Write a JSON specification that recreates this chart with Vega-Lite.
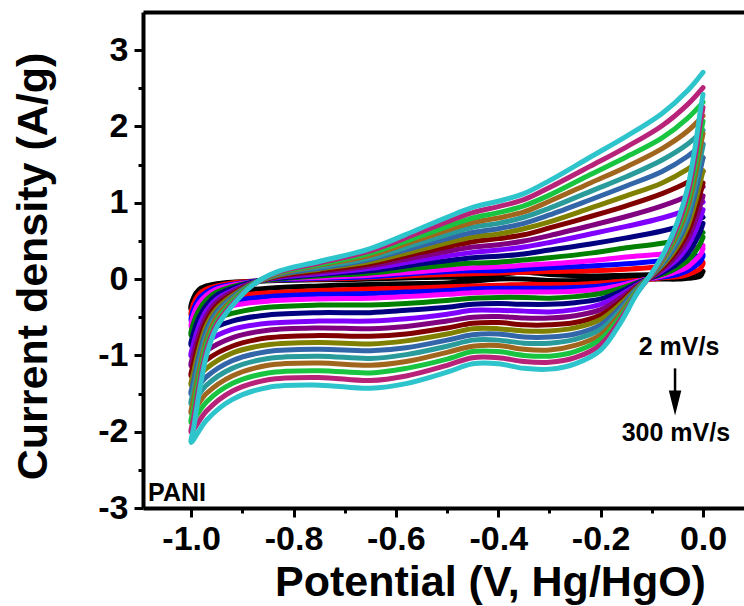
{
"$schema": "https://vega.github.io/schema/vega-lite/v6.json",
"width": 601, "height": 496,
"autosize": {"type": "none"},
"padding": {"left": 143, "top": 12, "right": 0, "bottom": 98},
"background": "white",
"config": {"view": {"stroke": null}, "font": "Liberation Sans"},
"datasets": {
"cv": [
{"k":0,"o":0,"v":0,"i":0.10},{"k":0,"o":1,"v":-0.005,"i":0.04},{"k":0,"o":2,"v":-0.015,"i":0.02},{"k":0,"o":3,"v":-0.03,"i":0.01},{"k":0,"o":4,"v":-0.05,"i":0.00},{"k":0,"o":5,"v":-0.075,"i":0.00},{"k":0,"o":6,"v":-0.1,"i":0.00},{"k":0,"o":7,"v":-0.13,"i":-0.01},{"k":0,"o":8,"v":-0.16,"i":-0.01},{"k":0,"o":9,"v":-0.2,"i":-0.01},{"k":0,"o":10,"v":-0.25,"i":-0.02},{"k":0,"o":11,"v":-0.3,"i":-0.02},{"k":0,"o":12,"v":-0.35,"i":0.00},{"k":0,"o":13,"v":-0.4,"i":0.00},{"k":0,"o":14,"v":-0.45,"i":-0.03},{"k":0,"o":15,"v":-0.5,"i":-0.05},{"k":0,"o":16,"v":-0.58,"i":-0.06},{"k":0,"o":17,"v":-0.65,"i":-0.07},{"k":0,"o":18,"v":-0.75,"i":-0.09},{"k":0,"o":19,"v":-0.85,"i":-0.12},{"k":0,"o":20,"v":-0.92,"i":-0.17},{"k":0,"o":21,"v":-0.97,"i":-0.26},{"k":0,"o":22,"v":-1.0,"i":-0.40},
{"k":0,"o":23,"v":-0.995,"i":-0.24},{"k":0,"o":24,"v":-0.985,"i":-0.14},{"k":0,"o":25,"v":-0.97,"i":-0.09},{"k":0,"o":26,"v":-0.95,"i":-0.06},{"k":0,"o":27,"v":-0.92,"i":-0.04},{"k":0,"o":28,"v":-0.88,"i":-0.03},{"k":0,"o":29,"v":-0.83,"i":-0.02},{"k":0,"o":30,"v":-0.75,"i":-0.01},{"k":0,"o":31,"v":-0.65,"i":0.00},{"k":0,"o":32,"v":-0.55,"i":0.02},{"k":0,"o":33,"v":-0.45,"i":0.03},{"k":0,"o":34,"v":-0.4,"i":0.06},{"k":0,"o":35,"v":-0.35,"i":0.09},{"k":0,"o":36,"v":-0.3,"i":0.06},{"k":0,"o":37,"v":-0.22,"i":0.04},{"k":0,"o":38,"v":-0.15,"i":0.05},{"k":0,"o":39,"v":-0.08,"i":0.06},{"k":0,"o":40,"v":-0.03,"i":0.07},{"k":0,"o":41,"v":0,"i":0.10},

{"k":1,"o":0,"v":0,"i":0.20},{"k":1,"o":1,"v":-0.005,"i":0.14},{"k":1,"o":2,"v":-0.015,"i":0.10},{"k":1,"o":3,"v":-0.03,"i":0.06},{"k":1,"o":4,"v":-0.05,"i":0.03},{"k":1,"o":5,"v":-0.075,"i":0.02},{"k":1,"o":6,"v":-0.1,"i":0.00},{"k":1,"o":7,"v":-0.13,"i":-0.02},{"k":1,"o":8,"v":-0.16,"i":-0.03},{"k":1,"o":9,"v":-0.2,"i":-0.05},{"k":1,"o":10,"v":-0.25,"i":-0.07},{"k":1,"o":11,"v":-0.3,"i":-0.07},{"k":1,"o":12,"v":-0.35,"i":-0.07},{"k":1,"o":13,"v":-0.4,"i":-0.08},{"k":1,"o":14,"v":-0.45,"i":-0.09},{"k":1,"o":15,"v":-0.5,"i":-0.10},{"k":1,"o":16,"v":-0.58,"i":-0.12},{"k":1,"o":17,"v":-0.65,"i":-0.13},{"k":1,"o":18,"v":-0.75,"i":-0.15},{"k":1,"o":19,"v":-0.85,"i":-0.18},{"k":1,"o":20,"v":-0.92,"i":-0.23},{"k":1,"o":21,"v":-0.97,"i":-0.33},{"k":1,"o":22,"v":-1.0,"i":-0.48},
{"k":1,"o":23,"v":-0.995,"i":-0.32},{"k":1,"o":24,"v":-0.985,"i":-0.20},{"k":1,"o":25,"v":-0.97,"i":-0.13},{"k":1,"o":26,"v":-0.95,"i":-0.09},{"k":1,"o":27,"v":-0.92,"i":-0.05},{"k":1,"o":28,"v":-0.88,"i":-0.03},{"k":1,"o":29,"v":-0.83,"i":-0.01},{"k":1,"o":30,"v":-0.75,"i":0.00},{"k":1,"o":31,"v":-0.65,"i":0.02},{"k":1,"o":32,"v":-0.55,"i":0.05},{"k":1,"o":33,"v":-0.45,"i":0.07},{"k":1,"o":34,"v":-0.4,"i":0.08},{"k":1,"o":35,"v":-0.35,"i":0.09},{"k":1,"o":36,"v":-0.3,"i":0.10},{"k":1,"o":37,"v":-0.22,"i":0.11},{"k":1,"o":38,"v":-0.15,"i":0.13},{"k":1,"o":39,"v":-0.08,"i":0.16},{"k":1,"o":40,"v":-0.03,"i":0.18},{"k":1,"o":41,"v":0,"i":0.22},

{"k":2,"o":0,"v":0,"i":0.30},{"k":2,"o":1,"v":-0.005,"i":0.23},{"k":2,"o":2,"v":-0.015,"i":0.17},{"k":2,"o":3,"v":-0.03,"i":0.11},{"k":2,"o":4,"v":-0.05,"i":0.06},{"k":2,"o":5,"v":-0.075,"i":0.03},{"k":2,"o":6,"v":-0.1,"i":0.01},{"k":2,"o":7,"v":-0.13,"i":-0.03},{"k":2,"o":8,"v":-0.16,"i":-0.06},{"k":2,"o":9,"v":-0.2,"i":-0.09},{"k":2,"o":10,"v":-0.25,"i":-0.11},{"k":2,"o":11,"v":-0.3,"i":-0.12},{"k":2,"o":12,"v":-0.35,"i":-0.12},{"k":2,"o":13,"v":-0.4,"i":-0.12},{"k":2,"o":14,"v":-0.45,"i":-0.13},{"k":2,"o":15,"v":-0.5,"i":-0.15},{"k":2,"o":16,"v":-0.58,"i":-0.17},{"k":2,"o":17,"v":-0.65,"i":-0.19},{"k":2,"o":18,"v":-0.75,"i":-0.20},{"k":2,"o":19,"v":-0.85,"i":-0.23},{"k":2,"o":20,"v":-0.92,"i":-0.29},{"k":2,"o":21,"v":-0.97,"i":-0.40},{"k":2,"o":22,"v":-1.0,"i":-0.55},
{"k":2,"o":23,"v":-0.995,"i":-0.39},{"k":2,"o":24,"v":-0.985,"i":-0.26},{"k":2,"o":25,"v":-0.97,"i":-0.17},{"k":2,"o":26,"v":-0.95,"i":-0.11},{"k":2,"o":27,"v":-0.92,"i":-0.07},{"k":2,"o":28,"v":-0.88,"i":-0.03},{"k":2,"o":29,"v":-0.83,"i":-0.01},{"k":2,"o":30,"v":-0.75,"i":0.01},{"k":2,"o":31,"v":-0.65,"i":0.03},{"k":2,"o":32,"v":-0.55,"i":0.08},{"k":2,"o":33,"v":-0.45,"i":0.11},{"k":2,"o":34,"v":-0.4,"i":0.11},{"k":2,"o":35,"v":-0.35,"i":0.13},{"k":2,"o":36,"v":-0.3,"i":0.15},{"k":2,"o":37,"v":-0.22,"i":0.17},{"k":2,"o":38,"v":-0.15,"i":0.20},{"k":2,"o":39,"v":-0.08,"i":0.24},{"k":2,"o":40,"v":-0.03,"i":0.27},{"k":2,"o":41,"v":0,"i":0.32},

{"k":3,"o":0,"v":0,"i":0.40},{"k":3,"o":1,"v":-0.005,"i":0.32},{"k":3,"o":2,"v":-0.015,"i":0.25},{"k":3,"o":3,"v":-0.03,"i":0.16},{"k":3,"o":4,"v":-0.05,"i":0.10},{"k":3,"o":5,"v":-0.075,"i":0.05},{"k":3,"o":6,"v":-0.1,"i":0.01},{"k":3,"o":7,"v":-0.13,"i":-0.03},{"k":3,"o":8,"v":-0.16,"i":-0.08},{"k":3,"o":9,"v":-0.2,"i":-0.13},{"k":3,"o":10,"v":-0.25,"i":-0.16},{"k":3,"o":11,"v":-0.3,"i":-0.17},{"k":3,"o":12,"v":-0.35,"i":-0.17},{"k":3,"o":13,"v":-0.4,"i":-0.17},{"k":3,"o":14,"v":-0.45,"i":-0.18},{"k":3,"o":15,"v":-0.5,"i":-0.20},{"k":3,"o":16,"v":-0.58,"i":-0.23},{"k":3,"o":17,"v":-0.65,"i":-0.25},{"k":3,"o":18,"v":-0.75,"i":-0.26},{"k":3,"o":19,"v":-0.85,"i":-0.29},{"k":3,"o":20,"v":-0.92,"i":-0.35},{"k":3,"o":21,"v":-0.97,"i":-0.47},{"k":3,"o":22,"v":-1.0,"i":-0.63},
{"k":3,"o":23,"v":-0.995,"i":-0.46},{"k":3,"o":24,"v":-0.985,"i":-0.32},{"k":3,"o":25,"v":-0.97,"i":-0.21},{"k":3,"o":26,"v":-0.95,"i":-0.13},{"k":3,"o":27,"v":-0.92,"i":-0.08},{"k":3,"o":28,"v":-0.88,"i":-0.04},{"k":3,"o":29,"v":-0.83,"i":0.00},{"k":3,"o":30,"v":-0.75,"i":0.02},{"k":3,"o":31,"v":-0.65,"i":0.05},{"k":3,"o":32,"v":-0.55,"i":0.10},{"k":3,"o":33,"v":-0.45,"i":0.15},{"k":3,"o":34,"v":-0.4,"i":0.16},{"k":3,"o":35,"v":-0.35,"i":0.18},{"k":3,"o":36,"v":-0.3,"i":0.20},{"k":3,"o":37,"v":-0.22,"i":0.24},{"k":3,"o":38,"v":-0.15,"i":0.29},{"k":3,"o":39,"v":-0.08,"i":0.33},{"k":3,"o":40,"v":-0.03,"i":0.38},{"k":3,"o":41,"v":0,"i":0.44},

{"k":4,"o":0,"v":0,"i":0.55},{"k":4,"o":1,"v":-0.005,"i":0.47},{"k":4,"o":2,"v":-0.015,"i":0.36},{"k":4,"o":3,"v":-0.03,"i":0.24},{"k":4,"o":4,"v":-0.05,"i":0.15},{"k":4,"o":5,"v":-0.075,"i":0.07},{"k":4,"o":6,"v":-0.1,"i":0.02},{"k":4,"o":7,"v":-0.13,"i":-0.05},{"k":4,"o":8,"v":-0.16,"i":-0.12},{"k":4,"o":9,"v":-0.2,"i":-0.19},{"k":4,"o":10,"v":-0.25,"i":-0.23},{"k":4,"o":11,"v":-0.3,"i":-0.25},{"k":4,"o":12,"v":-0.35,"i":-0.24},{"k":4,"o":13,"v":-0.4,"i":-0.24},{"k":4,"o":14,"v":-0.45,"i":-0.25},{"k":4,"o":15,"v":-0.5,"i":-0.28},{"k":4,"o":16,"v":-0.58,"i":-0.32},{"k":4,"o":17,"v":-0.65,"i":-0.34},{"k":4,"o":18,"v":-0.75,"i":-0.34},{"k":4,"o":19,"v":-0.85,"i":-0.37},{"k":4,"o":20,"v":-0.92,"i":-0.45},{"k":4,"o":21,"v":-0.97,"i":-0.57},{"k":4,"o":22,"v":-1.0,"i":-0.74},
{"k":4,"o":23,"v":-0.995,"i":-0.57},{"k":4,"o":24,"v":-0.985,"i":-0.41},{"k":4,"o":25,"v":-0.97,"i":-0.27},{"k":4,"o":26,"v":-0.95,"i":-0.17},{"k":4,"o":27,"v":-0.92,"i":-0.10},{"k":4,"o":28,"v":-0.88,"i":-0.04},{"k":4,"o":29,"v":-0.83,"i":0.00},{"k":4,"o":30,"v":-0.75,"i":0.04},{"k":4,"o":31,"v":-0.65,"i":0.08},{"k":4,"o":32,"v":-0.55,"i":0.15},{"k":4,"o":33,"v":-0.45,"i":0.21},{"k":4,"o":34,"v":-0.4,"i":0.22},{"k":4,"o":35,"v":-0.35,"i":0.25},{"k":4,"o":36,"v":-0.3,"i":0.28},{"k":4,"o":37,"v":-0.22,"i":0.34},{"k":4,"o":38,"v":-0.15,"i":0.41},{"k":4,"o":39,"v":-0.08,"i":0.47},{"k":4,"o":40,"v":-0.03,"i":0.54},{"k":4,"o":41,"v":0,"i":0.61},

{"k":5,"o":0,"v":0,"i":0.73},{"k":5,"o":1,"v":-0.005,"i":0.63},{"k":5,"o":2,"v":-0.015,"i":0.49},{"k":5,"o":3,"v":-0.03,"i":0.33},{"k":5,"o":4,"v":-0.05,"i":0.20},{"k":5,"o":5,"v":-0.075,"i":0.10},{"k":5,"o":6,"v":-0.1,"i":0.02},{"k":5,"o":7,"v":-0.13,"i":-0.06},{"k":5,"o":8,"v":-0.16,"i":-0.16},{"k":5,"o":9,"v":-0.2,"i":-0.26},{"k":5,"o":10,"v":-0.25,"i":-0.31},{"k":5,"o":11,"v":-0.3,"i":-0.33},{"k":5,"o":12,"v":-0.35,"i":-0.33},{"k":5,"o":13,"v":-0.4,"i":-0.32},{"k":5,"o":14,"v":-0.45,"i":-0.33},{"k":5,"o":15,"v":-0.5,"i":-0.37},{"k":5,"o":16,"v":-0.58,"i":-0.41},{"k":5,"o":17,"v":-0.65,"i":-0.44},{"k":5,"o":18,"v":-0.75,"i":-0.44},{"k":5,"o":19,"v":-0.85,"i":-0.47},{"k":5,"o":20,"v":-0.92,"i":-0.55},{"k":5,"o":21,"v":-0.97,"i":-0.69},{"k":5,"o":22,"v":-1.0,"i":-0.87},
{"k":5,"o":23,"v":-0.995,"i":-0.70},{"k":5,"o":24,"v":-0.985,"i":-0.51},{"k":5,"o":25,"v":-0.97,"i":-0.34},{"k":5,"o":26,"v":-0.95,"i":-0.21},{"k":5,"o":27,"v":-0.92,"i":-0.12},{"k":5,"o":28,"v":-0.88,"i":-0.04},{"k":5,"o":29,"v":-0.83,"i":0.01},{"k":5,"o":30,"v":-0.75,"i":0.06},{"k":5,"o":31,"v":-0.65,"i":0.11},{"k":5,"o":32,"v":-0.55,"i":0.20},{"k":5,"o":33,"v":-0.45,"i":0.28},{"k":5,"o":34,"v":-0.4,"i":0.30},{"k":5,"o":35,"v":-0.35,"i":0.33},{"k":5,"o":36,"v":-0.3,"i":0.38},{"k":5,"o":37,"v":-0.22,"i":0.46},{"k":5,"o":38,"v":-0.15,"i":0.54},{"k":5,"o":39,"v":-0.08,"i":0.63},{"k":5,"o":40,"v":-0.03,"i":0.72},{"k":5,"o":41,"v":0,"i":0.81},

{"k":6,"o":0,"v":0,"i":0.91},{"k":6,"o":1,"v":-0.005,"i":0.80},{"k":6,"o":2,"v":-0.015,"i":0.63},{"k":6,"o":3,"v":-0.03,"i":0.43},{"k":6,"o":4,"v":-0.05,"i":0.26},{"k":6,"o":5,"v":-0.075,"i":0.13},{"k":6,"o":6,"v":-0.1,"i":0.03},{"k":6,"o":7,"v":-0.13,"i":-0.08},{"k":6,"o":8,"v":-0.16,"i":-0.20},{"k":6,"o":9,"v":-0.2,"i":-0.33},{"k":6,"o":10,"v":-0.25,"i":-0.40},{"k":6,"o":11,"v":-0.3,"i":-0.43},{"k":6,"o":12,"v":-0.35,"i":-0.42},{"k":6,"o":13,"v":-0.4,"i":-0.41},{"k":6,"o":14,"v":-0.45,"i":-0.41},{"k":6,"o":15,"v":-0.5,"i":-0.46},{"k":6,"o":16,"v":-0.58,"i":-0.52},{"k":6,"o":17,"v":-0.65,"i":-0.55},{"k":6,"o":18,"v":-0.75,"i":-0.55},{"k":6,"o":19,"v":-0.85,"i":-0.58},{"k":6,"o":20,"v":-0.92,"i":-0.66},{"k":6,"o":21,"v":-0.97,"i":-0.82},{"k":6,"o":22,"v":-1.0,"i":-1.01},
{"k":6,"o":23,"v":-0.995,"i":-0.84},{"k":6,"o":24,"v":-0.985,"i":-0.62},{"k":6,"o":25,"v":-0.97,"i":-0.41},{"k":6,"o":26,"v":-0.95,"i":-0.26},{"k":6,"o":27,"v":-0.92,"i":-0.15},{"k":6,"o":28,"v":-0.88,"i":-0.05},{"k":6,"o":29,"v":-0.83,"i":0.02},{"k":6,"o":30,"v":-0.75,"i":0.07},{"k":6,"o":31,"v":-0.65,"i":0.14},{"k":6,"o":32,"v":-0.55,"i":0.25},{"k":6,"o":33,"v":-0.45,"i":0.35},{"k":6,"o":34,"v":-0.4,"i":0.38},{"k":6,"o":35,"v":-0.35,"i":0.42},{"k":6,"o":36,"v":-0.3,"i":0.48},{"k":6,"o":37,"v":-0.22,"i":0.59},{"k":6,"o":38,"v":-0.15,"i":0.69},{"k":6,"o":39,"v":-0.08,"i":0.80},{"k":6,"o":40,"v":-0.03,"i":0.91},{"k":6,"o":41,"v":0,"i":1.01},

{"k":7,"o":0,"v":0,"i":1.09},{"k":7,"o":1,"v":-0.005,"i":0.97},{"k":7,"o":2,"v":-0.015,"i":0.76},{"k":7,"o":3,"v":-0.03,"i":0.52},{"k":7,"o":4,"v":-0.05,"i":0.32},{"k":7,"o":5,"v":-0.075,"i":0.15},{"k":7,"o":6,"v":-0.1,"i":0.03},{"k":7,"o":7,"v":-0.13,"i":-0.09},{"k":7,"o":8,"v":-0.16,"i":-0.24},{"k":7,"o":9,"v":-0.2,"i":-0.40},{"k":7,"o":10,"v":-0.25,"i":-0.48},{"k":7,"o":11,"v":-0.3,"i":-0.51},{"k":7,"o":12,"v":-0.35,"i":-0.51},{"k":7,"o":13,"v":-0.4,"i":-0.49},{"k":7,"o":14,"v":-0.45,"i":-0.50},{"k":7,"o":15,"v":-0.5,"i":-0.55},{"k":7,"o":16,"v":-0.58,"i":-0.62},{"k":7,"o":17,"v":-0.65,"i":-0.65},{"k":7,"o":18,"v":-0.75,"i":-0.64},{"k":7,"o":19,"v":-0.85,"i":-0.67},{"k":7,"o":20,"v":-0.92,"i":-0.77},{"k":7,"o":21,"v":-0.97,"i":-0.94},{"k":7,"o":22,"v":-1.0,"i":-1.14},
{"k":7,"o":23,"v":-0.995,"i":-0.97},{"k":7,"o":24,"v":-0.985,"i":-0.73},{"k":7,"o":25,"v":-0.97,"i":-0.48},{"k":7,"o":26,"v":-0.95,"i":-0.30},{"k":7,"o":27,"v":-0.92,"i":-0.17},{"k":7,"o":28,"v":-0.88,"i":-0.05},{"k":7,"o":29,"v":-0.83,"i":0.03},{"k":7,"o":30,"v":-0.75,"i":0.09},{"k":7,"o":31,"v":-0.65,"i":0.17},{"k":7,"o":32,"v":-0.55,"i":0.30},{"k":7,"o":33,"v":-0.45,"i":0.42},{"k":7,"o":34,"v":-0.4,"i":0.45},{"k":7,"o":35,"v":-0.35,"i":0.50},{"k":7,"o":36,"v":-0.3,"i":0.57},{"k":7,"o":37,"v":-0.22,"i":0.70},{"k":7,"o":38,"v":-0.15,"i":0.82},{"k":7,"o":39,"v":-0.08,"i":0.96},{"k":7,"o":40,"v":-0.03,"i":1.09},{"k":7,"o":41,"v":0,"i":1.21},

{"k":8,"o":0,"v":0,"i":1.26},{"k":8,"o":1,"v":-0.005,"i":1.13},{"k":8,"o":2,"v":-0.015,"i":0.89},{"k":8,"o":3,"v":-0.03,"i":0.61},{"k":8,"o":4,"v":-0.05,"i":0.38},{"k":8,"o":5,"v":-0.075,"i":0.18},{"k":8,"o":6,"v":-0.1,"i":0.04},{"k":8,"o":7,"v":-0.13,"i":-0.11},{"k":8,"o":8,"v":-0.16,"i":-0.29},{"k":8,"o":9,"v":-0.2,"i":-0.47},{"k":8,"o":10,"v":-0.25,"i":-0.57},{"k":8,"o":11,"v":-0.3,"i":-0.60},{"k":8,"o":12,"v":-0.35,"i":-0.60},{"k":8,"o":13,"v":-0.4,"i":-0.57},{"k":8,"o":14,"v":-0.45,"i":-0.58},{"k":8,"o":15,"v":-0.5,"i":-0.64},{"k":8,"o":16,"v":-0.58,"i":-0.72},{"k":8,"o":17,"v":-0.65,"i":-0.75},{"k":8,"o":18,"v":-0.75,"i":-0.74},{"k":8,"o":19,"v":-0.85,"i":-0.77},{"k":8,"o":20,"v":-0.92,"i":-0.88},{"k":8,"o":21,"v":-0.97,"i":-1.06},{"k":8,"o":22,"v":-1.0,"i":-1.27},
{"k":8,"o":23,"v":-0.995,"i":-1.10},{"k":8,"o":24,"v":-0.985,"i":-0.83},{"k":8,"o":25,"v":-0.97,"i":-0.55},{"k":8,"o":26,"v":-0.95,"i":-0.35},{"k":8,"o":27,"v":-0.92,"i":-0.20},{"k":8,"o":28,"v":-0.88,"i":-0.06},{"k":8,"o":29,"v":-0.83,"i":0.04},{"k":8,"o":30,"v":-0.75,"i":0.11},{"k":8,"o":31,"v":-0.65,"i":0.20},{"k":8,"o":32,"v":-0.55,"i":0.35},{"k":8,"o":33,"v":-0.45,"i":0.49},{"k":8,"o":34,"v":-0.4,"i":0.53},{"k":8,"o":35,"v":-0.35,"i":0.58},{"k":8,"o":36,"v":-0.3,"i":0.67},{"k":8,"o":37,"v":-0.22,"i":0.82},{"k":8,"o":38,"v":-0.15,"i":0.96},{"k":8,"o":39,"v":-0.08,"i":1.12},{"k":8,"o":40,"v":-0.03,"i":1.27},{"k":8,"o":41,"v":0,"i":1.41},

{"k":9,"o":0,"v":0,"i":1.42},{"k":9,"o":1,"v":-0.005,"i":1.28},{"k":9,"o":2,"v":-0.015,"i":1.01},{"k":9,"o":3,"v":-0.03,"i":0.69},{"k":9,"o":4,"v":-0.05,"i":0.43},{"k":9,"o":5,"v":-0.075,"i":0.21},{"k":9,"o":6,"v":-0.1,"i":0.05},{"k":9,"o":7,"v":-0.13,"i":-0.12},{"k":9,"o":8,"v":-0.16,"i":-0.32},{"k":9,"o":9,"v":-0.2,"i":-0.53},{"k":9,"o":10,"v":-0.25,"i":-0.64},{"k":9,"o":11,"v":-0.3,"i":-0.68},{"k":9,"o":12,"v":-0.35,"i":-0.68},{"k":9,"o":13,"v":-0.4,"i":-0.65},{"k":9,"o":14,"v":-0.45,"i":-0.65},{"k":9,"o":15,"v":-0.5,"i":-0.72},{"k":9,"o":16,"v":-0.58,"i":-0.81},{"k":9,"o":17,"v":-0.65,"i":-0.85},{"k":9,"o":18,"v":-0.75,"i":-0.83},{"k":9,"o":19,"v":-0.85,"i":-0.86},{"k":9,"o":20,"v":-0.92,"i":-0.97},{"k":9,"o":21,"v":-0.97,"i":-1.17},{"k":9,"o":22,"v":-1.0,"i":-1.39},
{"k":9,"o":23,"v":-0.995,"i":-1.22},{"k":9,"o":24,"v":-0.985,"i":-0.93},{"k":9,"o":25,"v":-0.97,"i":-0.61},{"k":9,"o":26,"v":-0.95,"i":-0.39},{"k":9,"o":27,"v":-0.92,"i":-0.22},{"k":9,"o":28,"v":-0.88,"i":-0.06},{"k":9,"o":29,"v":-0.83,"i":0.05},{"k":9,"o":30,"v":-0.75,"i":0.13},{"k":9,"o":31,"v":-0.65,"i":0.23},{"k":9,"o":32,"v":-0.55,"i":0.39},{"k":9,"o":33,"v":-0.45,"i":0.55},{"k":9,"o":34,"v":-0.4,"i":0.59},{"k":9,"o":35,"v":-0.35,"i":0.66},{"k":9,"o":36,"v":-0.3,"i":0.75},{"k":9,"o":37,"v":-0.22,"i":0.93},{"k":9,"o":38,"v":-0.15,"i":1.09},{"k":9,"o":39,"v":-0.08,"i":1.26},{"k":9,"o":40,"v":-0.03,"i":1.44},{"k":9,"o":41,"v":0,"i":1.59},

{"k":10,"o":0,"v":0,"i":1.59},{"k":10,"o":1,"v":-0.005,"i":1.44},{"k":10,"o":2,"v":-0.015,"i":1.13},{"k":10,"o":3,"v":-0.03,"i":0.77},{"k":10,"o":4,"v":-0.05,"i":0.48},{"k":10,"o":5,"v":-0.075,"i":0.23},{"k":10,"o":6,"v":-0.1,"i":0.05},{"k":10,"o":7,"v":-0.13,"i":-0.13},{"k":10,"o":8,"v":-0.16,"i":-0.36},{"k":10,"o":9,"v":-0.2,"i":-0.60},{"k":10,"o":10,"v":-0.25,"i":-0.72},{"k":10,"o":11,"v":-0.3,"i":-0.76},{"k":10,"o":12,"v":-0.35,"i":-0.76},{"k":10,"o":13,"v":-0.4,"i":-0.72},{"k":10,"o":14,"v":-0.45,"i":-0.73},{"k":10,"o":15,"v":-0.5,"i":-0.80},{"k":10,"o":16,"v":-0.58,"i":-0.90},{"k":10,"o":17,"v":-0.65,"i":-0.94},{"k":10,"o":18,"v":-0.75,"i":-0.92},{"k":10,"o":19,"v":-0.85,"i":-0.95},{"k":10,"o":20,"v":-0.92,"i":-1.07},{"k":10,"o":21,"v":-0.97,"i":-1.28},{"k":10,"o":22,"v":-1.0,"i":-1.51},
{"k":10,"o":23,"v":-0.995,"i":-1.33},{"k":10,"o":24,"v":-0.985,"i":-1.02},{"k":10,"o":25,"v":-0.97,"i":-0.67},{"k":10,"o":26,"v":-0.95,"i":-0.43},{"k":10,"o":27,"v":-0.92,"i":-0.24},{"k":10,"o":28,"v":-0.88,"i":-0.06},{"k":10,"o":29,"v":-0.83,"i":0.06},{"k":10,"o":30,"v":-0.75,"i":0.14},{"k":10,"o":31,"v":-0.65,"i":0.26},{"k":10,"o":32,"v":-0.55,"i":0.44},{"k":10,"o":33,"v":-0.45,"i":0.61},{"k":10,"o":34,"v":-0.4,"i":0.66},{"k":10,"o":35,"v":-0.35,"i":0.73},{"k":10,"o":36,"v":-0.3,"i":0.84},{"k":10,"o":37,"v":-0.22,"i":1.04},{"k":10,"o":38,"v":-0.15,"i":1.22},{"k":10,"o":39,"v":-0.08,"i":1.41},{"k":10,"o":40,"v":-0.03,"i":1.61},{"k":10,"o":41,"v":0,"i":1.77},

{"k":11,"o":0,"v":0,"i":1.75},{"k":11,"o":1,"v":-0.005,"i":1.59},{"k":11,"o":2,"v":-0.015,"i":1.25},{"k":11,"o":3,"v":-0.03,"i":0.86},{"k":11,"o":4,"v":-0.05,"i":0.53},{"k":11,"o":5,"v":-0.075,"i":0.26},{"k":11,"o":6,"v":-0.1,"i":0.06},{"k":11,"o":7,"v":-0.13,"i":-0.15},{"k":11,"o":8,"v":-0.16,"i":-0.40},{"k":11,"o":9,"v":-0.2,"i":-0.66},{"k":11,"o":10,"v":-0.25,"i":-0.79},{"k":11,"o":11,"v":-0.3,"i":-0.84},{"k":11,"o":12,"v":-0.35,"i":-0.84},{"k":11,"o":13,"v":-0.4,"i":-0.80},{"k":11,"o":14,"v":-0.45,"i":-0.80},{"k":11,"o":15,"v":-0.5,"i":-0.88},{"k":11,"o":16,"v":-0.58,"i":-0.99},{"k":11,"o":17,"v":-0.65,"i":-1.04},{"k":11,"o":18,"v":-0.75,"i":-1.01},{"k":11,"o":19,"v":-0.85,"i":-1.04},{"k":11,"o":20,"v":-0.92,"i":-1.17},{"k":11,"o":21,"v":-0.97,"i":-1.39},{"k":11,"o":22,"v":-1.0,"i":-1.64},
{"k":11,"o":23,"v":-0.995,"i":-1.45},{"k":11,"o":24,"v":-0.985,"i":-1.12},{"k":11,"o":25,"v":-0.97,"i":-0.74},{"k":11,"o":26,"v":-0.95,"i":-0.47},{"k":11,"o":27,"v":-0.92,"i":-0.26},{"k":11,"o":28,"v":-0.88,"i":-0.07},{"k":11,"o":29,"v":-0.83,"i":0.07},{"k":11,"o":30,"v":-0.75,"i":0.16},{"k":11,"o":31,"v":-0.65,"i":0.28},{"k":11,"o":32,"v":-0.55,"i":0.48},{"k":11,"o":33,"v":-0.45,"i":0.68},{"k":11,"o":34,"v":-0.4,"i":0.73},{"k":11,"o":35,"v":-0.35,"i":0.81},{"k":11,"o":36,"v":-0.3,"i":0.93},{"k":11,"o":37,"v":-0.22,"i":1.15},{"k":11,"o":38,"v":-0.15,"i":1.34},{"k":11,"o":39,"v":-0.08,"i":1.56},{"k":11,"o":40,"v":-0.03,"i":1.77},{"k":11,"o":41,"v":0,"i":1.95},

{"k":12,"o":0,"v":0,"i":1.91},{"k":12,"o":1,"v":-0.005,"i":1.74},{"k":12,"o":2,"v":-0.015,"i":1.37},{"k":12,"o":3,"v":-0.03,"i":0.94},{"k":12,"o":4,"v":-0.05,"i":0.59},{"k":12,"o":5,"v":-0.075,"i":0.28},{"k":12,"o":6,"v":-0.1,"i":0.06},{"k":12,"o":7,"v":-0.13,"i":-0.16},{"k":12,"o":8,"v":-0.16,"i":-0.44},{"k":12,"o":9,"v":-0.2,"i":-0.73},{"k":12,"o":10,"v":-0.25,"i":-0.87},{"k":12,"o":11,"v":-0.3,"i":-0.93},{"k":12,"o":12,"v":-0.35,"i":-0.92},{"k":12,"o":13,"v":-0.4,"i":-0.87},{"k":12,"o":14,"v":-0.45,"i":-0.88},{"k":12,"o":15,"v":-0.5,"i":-0.96},{"k":12,"o":16,"v":-0.58,"i":-1.08},{"k":12,"o":17,"v":-0.65,"i":-1.13},{"k":12,"o":18,"v":-0.75,"i":-1.10},{"k":12,"o":19,"v":-0.85,"i":-1.13},{"k":12,"o":20,"v":-0.92,"i":-1.27},{"k":12,"o":21,"v":-0.97,"i":-1.50},{"k":12,"o":22,"v":-1.0,"i":-1.76},
{"k":12,"o":23,"v":-0.995,"i":-1.57},{"k":12,"o":24,"v":-0.985,"i":-1.22},{"k":12,"o":25,"v":-0.97,"i":-0.80},{"k":12,"o":26,"v":-0.95,"i":-0.50},{"k":12,"o":27,"v":-0.92,"i":-0.28},{"k":12,"o":28,"v":-0.88,"i":-0.07},{"k":12,"o":29,"v":-0.83,"i":0.07},{"k":12,"o":30,"v":-0.75,"i":0.18},{"k":12,"o":31,"v":-0.65,"i":0.31},{"k":12,"o":32,"v":-0.55,"i":0.53},{"k":12,"o":33,"v":-0.45,"i":0.74},{"k":12,"o":34,"v":-0.4,"i":0.80},{"k":12,"o":35,"v":-0.35,"i":0.88},{"k":12,"o":36,"v":-0.3,"i":1.02},{"k":12,"o":37,"v":-0.22,"i":1.26},{"k":12,"o":38,"v":-0.15,"i":1.47},{"k":12,"o":39,"v":-0.08,"i":1.71},{"k":12,"o":40,"v":-0.03,"i":1.94},{"k":12,"o":41,"v":0,"i":2.14},

{"k":13,"o":0,"v":0,"i":2.07},{"k":13,"o":1,"v":-0.005,"i":1.89},{"k":13,"o":2,"v":-0.015,"i":1.49},{"k":13,"o":3,"v":-0.03,"i":1.02},{"k":13,"o":4,"v":-0.05,"i":0.64},{"k":13,"o":5,"v":-0.075,"i":0.31},{"k":13,"o":6,"v":-0.1,"i":0.07},{"k":13,"o":7,"v":-0.13,"i":-0.17},{"k":13,"o":8,"v":-0.16,"i":-0.48},{"k":13,"o":9,"v":-0.2,"i":-0.79},{"k":13,"o":10,"v":-0.25,"i":-0.95},{"k":13,"o":11,"v":-0.3,"i":-1.01},{"k":13,"o":12,"v":-0.35,"i":-1.00},{"k":13,"o":13,"v":-0.4,"i":-0.95},{"k":13,"o":14,"v":-0.45,"i":-0.95},{"k":13,"o":15,"v":-0.5,"i":-1.05},{"k":13,"o":16,"v":-0.58,"i":-1.17},{"k":13,"o":17,"v":-0.65,"i":-1.23},{"k":13,"o":18,"v":-0.75,"i":-1.20},{"k":13,"o":19,"v":-0.85,"i":-1.23},{"k":13,"o":20,"v":-0.92,"i":-1.37},{"k":13,"o":21,"v":-0.97,"i":-1.61},{"k":13,"o":22,"v":-1.0,"i":-1.88},
{"k":13,"o":23,"v":-0.995,"i":-1.69},{"k":13,"o":24,"v":-0.985,"i":-1.31},{"k":13,"o":25,"v":-0.97,"i":-0.86},{"k":13,"o":26,"v":-0.95,"i":-0.55},{"k":13,"o":27,"v":-0.92,"i":-0.30},{"k":13,"o":28,"v":-0.88,"i":-0.07},{"k":13,"o":29,"v":-0.83,"i":0.08},{"k":13,"o":30,"v":-0.75,"i":0.19},{"k":13,"o":31,"v":-0.65,"i":0.34},{"k":13,"o":32,"v":-0.55,"i":0.57},{"k":13,"o":33,"v":-0.45,"i":0.80},{"k":13,"o":34,"v":-0.4,"i":0.87},{"k":13,"o":35,"v":-0.35,"i":0.96},{"k":13,"o":36,"v":-0.3,"i":1.10},{"k":13,"o":37,"v":-0.22,"i":1.37},{"k":13,"o":38,"v":-0.15,"i":1.60},{"k":13,"o":39,"v":-0.08,"i":1.85},{"k":13,"o":40,"v":-0.03,"i":2.11},{"k":13,"o":41,"v":0,"i":2.32},

{"k":14,"o":0,"v":0,"i":2.25},{"k":14,"o":1,"v":-0.005,"i":2.06},{"k":14,"o":2,"v":-0.015,"i":1.62},{"k":14,"o":3,"v":-0.03,"i":1.11},{"k":14,"o":4,"v":-0.05,"i":0.69},{"k":14,"o":5,"v":-0.075,"i":0.33},{"k":14,"o":6,"v":-0.1,"i":0.07},{"k":14,"o":7,"v":-0.13,"i":-0.19},{"k":14,"o":8,"v":-0.16,"i":-0.52},{"k":14,"o":9,"v":-0.2,"i":-0.86},{"k":14,"o":10,"v":-0.25,"i":-1.03},{"k":14,"o":11,"v":-0.3,"i":-1.09},{"k":14,"o":12,"v":-0.35,"i":-1.08},{"k":14,"o":13,"v":-0.4,"i":-1.03},{"k":14,"o":14,"v":-0.45,"i":-1.03},{"k":14,"o":15,"v":-0.5,"i":-1.13},{"k":14,"o":16,"v":-0.58,"i":-1.27},{"k":14,"o":17,"v":-0.65,"i":-1.33},{"k":14,"o":18,"v":-0.75,"i":-1.29},{"k":14,"o":19,"v":-0.85,"i":-1.32},{"k":14,"o":20,"v":-0.92,"i":-1.47},{"k":14,"o":21,"v":-0.97,"i":-1.73},{"k":14,"o":22,"v":-1.0,"i":-2.01},
{"k":14,"o":23,"v":-0.995,"i":-1.82},{"k":14,"o":24,"v":-0.985,"i":-1.42},{"k":14,"o":25,"v":-0.97,"i":-0.93},{"k":14,"o":26,"v":-0.95,"i":-0.59},{"k":14,"o":27,"v":-0.92,"i":-0.33},{"k":14,"o":28,"v":-0.88,"i":-0.08},{"k":14,"o":29,"v":-0.83,"i":0.09},{"k":14,"o":30,"v":-0.75,"i":0.21},{"k":14,"o":31,"v":-0.65,"i":0.37},{"k":14,"o":32,"v":-0.55,"i":0.62},{"k":14,"o":33,"v":-0.45,"i":0.87},{"k":14,"o":34,"v":-0.4,"i":0.95},{"k":14,"o":35,"v":-0.35,"i":1.04},{"k":14,"o":36,"v":-0.3,"i":1.20},{"k":14,"o":37,"v":-0.22,"i":1.48},{"k":14,"o":38,"v":-0.15,"i":1.73},{"k":14,"o":39,"v":-0.08,"i":2.01},{"k":14,"o":40,"v":-0.03,"i":2.29},{"k":14,"o":41,"v":0,"i":2.51},

{"k":15,"o":0,"v":0,"i":2.42},{"k":15,"o":1,"v":-0.005,"i":2.22},{"k":15,"o":2,"v":-0.015,"i":1.75},{"k":15,"o":3,"v":-0.03,"i":1.20},{"k":15,"o":4,"v":-0.05,"i":0.75},{"k":15,"o":5,"v":-0.075,"i":0.36},{"k":15,"o":6,"v":-0.1,"i":0.08},{"k":15,"o":7,"v":-0.13,"i":-0.20},{"k":15,"o":8,"v":-0.16,"i":-0.56},{"k":15,"o":9,"v":-0.2,"i":-0.93},{"k":15,"o":10,"v":-0.25,"i":-1.11},{"k":15,"o":11,"v":-0.3,"i":-1.18},{"k":15,"o":12,"v":-0.35,"i":-1.17},{"k":15,"o":13,"v":-0.4,"i":-1.11},{"k":15,"o":14,"v":-0.45,"i":-1.11},{"k":15,"o":15,"v":-0.5,"i":-1.22},{"k":15,"o":16,"v":-0.58,"i":-1.37},{"k":15,"o":17,"v":-0.65,"i":-1.43},{"k":15,"o":18,"v":-0.75,"i":-1.39},{"k":15,"o":19,"v":-0.85,"i":-1.42},{"k":15,"o":20,"v":-0.92,"i":-1.58},{"k":15,"o":21,"v":-0.97,"i":-1.85},{"k":15,"o":22,"v":-1.0,"i":-2.14},
{"k":15,"o":23,"v":-0.995,"i":-1.95},{"k":15,"o":24,"v":-0.985,"i":-1.52},{"k":15,"o":25,"v":-0.97,"i":-1.00},{"k":15,"o":26,"v":-0.95,"i":-0.63},{"k":15,"o":27,"v":-0.92,"i":-0.35},{"k":15,"o":28,"v":-0.88,"i":-0.08},{"k":15,"o":29,"v":-0.83,"i":0.10},{"k":15,"o":30,"v":-0.75,"i":0.23},{"k":15,"o":31,"v":-0.65,"i":0.40},{"k":15,"o":32,"v":-0.55,"i":0.67},{"k":15,"o":33,"v":-0.45,"i":0.94},{"k":15,"o":34,"v":-0.4,"i":1.02},{"k":15,"o":35,"v":-0.35,"i":1.12},{"k":15,"o":36,"v":-0.3,"i":1.29},{"k":15,"o":37,"v":-0.22,"i":1.60},{"k":15,"o":38,"v":-0.15,"i":1.87},{"k":15,"o":39,"v":-0.08,"i":2.17},{"k":15,"o":40,"v":-0.03,"i":2.47},{"k":15,"o":41,"v":0,"i":2.71}
]
},
"layer": [
{
"data": {"name": "cv"},
"mark": {"type": "line", "strokeWidth": 5, "interpolate": "catmull-rom", "strokeCap": "round", "strokeJoin": "round", "clip": true},
"encoding": {
"x": {"field": "v", "type": "quantitative", "scale": {"domain": [-1.094, 0.08], "nice": false, "zero": false},
"axis": {"orient": "bottom", "values": [-1,-0.9,-0.8,-0.7,-0.6,-0.5,-0.4,-0.3,-0.2,-0.1,0],
"labelExpr": "abs(round(datum.value*10)) % 2 == 1 ? '' : replace(format(datum.value, '.1f'), '\u2212', '-')",
"tickSize": {"condition": {"test": "abs(round(datum.value*10)) % 2 == 1", "value": 5}, "value": 9},
"tickWidth": 3, "tickColor": "black", "domainWidth": 4, "domainColor": "black",
"labelFont": "Liberation Sans", "labelFontWeight": "bold", "labelFontSize": 34, "labelColor": "black", "labelPadding": 5, "labelFlush": false, "labelOverlap": false,
"title": "Potential (V, Hg/HgO)", "titleFont": "Liberation Sans", "titleFontWeight": "bold", "titleFontSize": 43, "titleColor": "black",
"titleX": 347, "titleY": 87, "titleBaseline": "alphabetic", "grid": false}},
"y": {"field": "i", "type": "quantitative", "scale": {"domain": [-3, 3.5], "nice": false, "zero": false},
"axis": {"orient": "left", "values": [-3,-2.5,-2,-1.5,-1,-0.5,0,0.5,1,1.5,2,2.5,3],
"labelExpr": "abs(datum.value % 1) > 0.1 ? '' : replace(format(datum.value, 'd'), '\u2212', '-')",
"tickSize": {"condition": {"test": "abs(datum.value % 1) > 0.1", "value": 5}, "value": 9},
"tickWidth": 3, "tickColor": "black", "domainWidth": 4, "domainColor": "black",
"labelFont": "Liberation Sans", "labelFontWeight": "bold", "labelFontSize": 34, "labelColor": "black", "labelPadding": 6, "labelOverlap": false,
"title": "Current density (A/g)", "titleFont": "Liberation Sans", "titleFontWeight": "bold", "titleFontSize": 43, "titleColor": "black",
"titleAngle": -90, "titleX": -97, "titleY": 254, "titleBaseline": "alphabetic", "titleAlign": "center", "grid": false}},
"color": {"field": "k", "type": "nominal", "scale": {"domain": [0,1,2,3,4,5,6,7,8,9,10,11,12,13,14,15], "range": ["#000000","#FF0000","#0000FF","#FF00FF","#008000","#000080","#8000FF","#800080","#800000","#808000","#3366A8","#2A9B9B","#A0661E","#19C540","#B8237A","#2EC4CC"]}, "legend": null},
"order": {"field": "o", "type": "quantitative"}
}
},
{
"data": {"values": [{"v": -0.047, "i": -1.0, "t": "2 mV/s"}, {"v": -0.053, "i": -2.12, "t": "300 mV/s"}]},
"mark": {"type": "text", "font": "Liberation Sans", "fontWeight": "bold", "fontSize": 25, "align": "center", "baseline": "alphabetic", "color": "black"},
"encoding": {
"x": {"field": "v", "type": "quantitative", "axis": {"orient": "top", "labels": false, "ticks": false, "title": null, "domainWidth": 4, "domainColor": "black", "grid": false}},
"y": {"field": "i", "type": "quantitative", "axis": null},
"text": {"field": "t"}
}
},
{
"data": {"values": [{"v": -1.084, "i": -2.91, "t": "PANI"}]},
"mark": {"type": "text", "font": "Liberation Sans", "fontWeight": "bold", "fontSize": 25, "align": "left", "baseline": "alphabetic", "color": "black"},
"encoding": {
"x": {"field": "v", "type": "quantitative", "axis": null},
"y": {"field": "i", "type": "quantitative", "axis": null},
"text": {"field": "t"}
}
},
{
"data": {"values": [{"v": -0.0547, "i": -1.17, "i2": -1.5}]},
"mark": {"type": "rule", "strokeWidth": 2.5, "color": "black"},
"encoding": {
"x": {"field": "v", "type": "quantitative", "axis": null},
"y": {"field": "i", "type": "quantitative", "axis": null},
"y2": {"field": "i2"}
}
},
{
"data": {"values": [{"v": -0.0547, "i": -1.625}]},
"mark": {"type": "point", "filled": true, "shape": "M-0.5,-1L0.5,-1L0,1Z", "size": 625, "color": "black", "opacity": 1, "strokeWidth": 0},
"encoding": {
"x": {"field": "v", "type": "quantitative", "axis": null},
"y": {"field": "i", "type": "quantitative", "axis": null}
}
}
],
"resolve": {"axis": {"x": "independent", "y": "independent"}}
}
